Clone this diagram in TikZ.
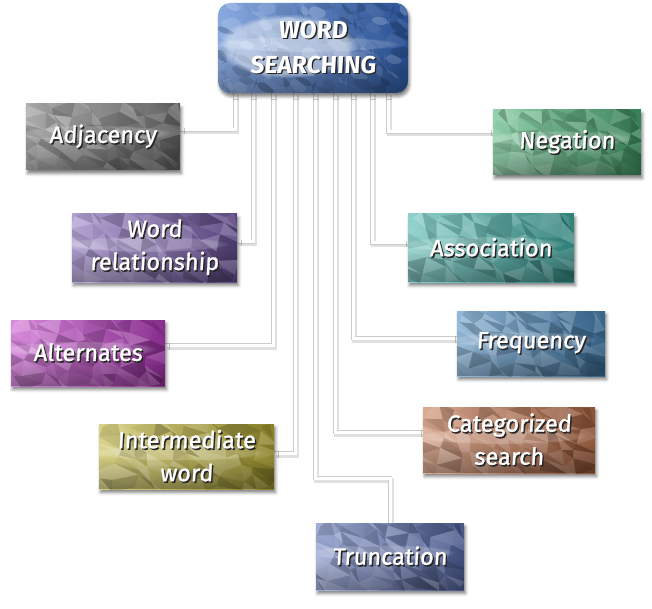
\documentclass[tikz,border=0pt]{standalone}
\usepackage{fontspec}
\setmainfont{Fira Sans}
\newfontfamily\cardfont{Fira Sans}[FakeBold=1.2,FakeSlant=0.06]
\newfontfamily\titlefont{Fira Sans Bold}[FakeSlant=0.06]
\usetikzlibrary{shadows.blur,fadings,backgrounds,calc}

\definecolor{cTop}{HTML}{3A70CC}
\definecolor{cAdj}{HTML}{7C7C7C}
\definecolor{cRel}{HTML}{7E62B4}
\definecolor{cAlt}{HTML}{BC3CC4}
\definecolor{cInt}{HTML}{C0B438}
\definecolor{cTru}{HTML}{6478BC}
\definecolor{cCat}{HTML}{C07048}
\definecolor{cFrq}{HTML}{4C8ABE}
\definecolor{cAss}{HTML}{44B2AA}
\definecolor{cNeg}{HTML}{4CB276}

% white lettering with a dark drop shadow
\newcommand\shadowed[1]{\leavevmode\rlap{\kern1.4pt\raisebox{-1.6pt}{\textcolor{black!85}{#1}}}#1}

\def\glowamount{0}

% low-poly facets: jittered grid of triangles, lightened or darkened
\newcommand\facets[3]{%
  \coordinate (nw) at (path picture bounding box.north west);
  \pgfmathsetmacro\cw{#1/10}\pgfmathsetmacro\ch{#2/6}
  \foreach \i in {0,...,9}{\foreach \j in {0,...,5}{
    \pgfmathtruncatemacro\ii{\i+1}\pgfmathtruncatemacro\jj{\j+1}
    \pgfmathsetmacro\ax{\i*\cw+5*sin(127*\i+311*\j+#3)}
    \pgfmathsetmacro\ay{\j*\ch+4*sin(211*\i+97*\j+#3)}
    \pgfmathsetmacro\bx{\ii*\cw+5*sin(127*\ii+311*\j+#3)}
    \pgfmathsetmacro\by{\j*\ch+4*sin(211*\ii+97*\j+#3)}
    \pgfmathsetmacro\cx{\i*\cw+5*sin(127*\i+311*\jj+#3)}
    \pgfmathsetmacro\cy{\jj*\ch+4*sin(211*\i+97*\jj+#3)}
    \pgfmathsetmacro\dx{\ii*\cw+5*sin(127*\ii+311*\jj+#3)}
    \pgfmathsetmacro\dy{\jj*\ch+4*sin(211*\ii+97*\jj+#3)}
    \pgfmathsetmacro\sa{2*mod(abs(1000*sin(127.1*\i+311.7*\j+37.3*#3)),1)-1}
    \pgfmathsetmacro\sb{2*mod(abs(1000*sin(269.5*\i+183.3*\j+51.7*#3+17)),1)-1}
    \pgfmathsetmacro\wa{max(0,\sa)*0.22}\pgfmathsetmacro\ka{max(0,-\sa)*0.22}
    \pgfmathsetmacro\wb{max(0,\sb)*0.22}\pgfmathsetmacro\kb{max(0,-\sb)*0.22}
    \fill[white,fill opacity=\wa] ($(nw)+(\ax,\ay)$) -- ($(nw)+(\bx,\by)$) -- ($(nw)+(\dx,\dy)$) -- cycle;
    \fill[black,fill opacity=\ka] ($(nw)+(\ax,\ay)$) -- ($(nw)+(\bx,\by)$) -- ($(nw)+(\dx,\dy)$) -- cycle;
    \fill[white,fill opacity=\wb] ($(nw)+(\ax,\ay)$) -- ($(nw)+(\dx,\dy)$) -- ($(nw)+(\cx,\cy)$) -- cycle;
    \fill[black,fill opacity=\kb] ($(nw)+(\ax,\ay)$) -- ($(nw)+(\dx,\dy)$) -- ($(nw)+(\cx,\cy)$) -- cycle;
  }}
  \fill[black,fill opacity=0.3,path fading=north]
    (path picture bounding box.south west) rectangle (path picture bounding box.east);
  \fill[white,fill opacity=0.18,path fading=circle with fuzzy edge 15 percent]
    ([xshift=-8pt,yshift=4pt]path picture bounding box.center) ellipse [x radius=#1*0.5pt,y radius=8pt];
  \fill[white,fill opacity=\glowamount,path fading=circle with fuzzy edge 15 percent]
    ([xshift=-25pt,yshift=2pt]path picture bounding box.center) ellipse [x radius=70pt,y radius=32pt];
}

\tikzset{
  card/.style n args={4}{
    minimum width=#1pt, minimum height=#2pt, inner sep=0pt,
    left color=#3!60!white, right color=#3!72!black,
    blur shadow={shadow xshift=1.5pt,shadow yshift=-3.5pt,shadow blur radius=3pt,shadow opacity=50},
    path picture={\facets{#1}{#2}{#4}},
    text=white, align=center, font=\cardfont\fontsize{23.5}{33}\selectfont
  },
  glow/.code={\def\glowamount{#1}},
  titlecard/.style={font=\titlefont\fontsize{24.5}{35}\selectfont, rounded corners=12pt, glow=0.45},
  link/.style={draw=black!20, line width=0.6pt, double=white, double distance=3pt,
    preaction={draw=black!12, line width=5pt, transform canvas={shift={(1.5pt,-2pt)}}}}
}

\begin{document}
\begin{tikzpicture}[x=1pt,y=-1pt]
\useasboundingbox (0,0) rectangle (652,609);

\node[card={190}{90}{cTop}{10}, titlecard] (top) at (313,48) {\shadowed{WORD}\\\shadowed{SEARCHING}};

\node[card={154}{66}{cAdj}{20}] (adj) at (103,137) {\shadowed{Adjacency}};
\node[card={165}{68}{cRel}{30}] (rel) at (154.5,248) {\shadowed{Word}\\\shadowed{relationship}};
\node[card={154}{66}{cAlt}{40}] (alt) at (88,353) {\shadowed{Alternates}};
\node[card={175}{65}{cInt}{50}] (int) at (186.5,456.5) {\shadowed{Intermediate}\\\shadowed{word}};
\node[card={148}{67}{cTru}{60}] (tru) at (390,556.5) {\shadowed{Truncation}};
\node[card={172}{66}{cCat}{70}] (cat) at (509,440) {\shadowed{Categorized}\\\shadowed{search}};
\node[card={148}{65}{cFrq}{80}] (frq) at (531,343.5) {\shadowed{Frequency}};
\node[card={166}{68}{cAss}{90}] (ass) at (491,248) {\shadowed{Association}};
\node[card={148}{65}{cNeg}{100}] (neg) at (567,142.5) {\shadowed{Negation}};

\begin{scope}[on background layer]
  \draw[link] ([xshift=-78pt]top.south) |- ([yshift=7pt]adj.east);
  \draw[link] ([xshift=-60pt]top.south) |- ([yshift=6pt]rel.east);
  \draw[link] ([xshift=-40pt]top.south) |- ([yshift=8pt]alt.east);
  \draw[link] ([xshift=-18pt]top.south) |- ([yshift=3.5pt]int.east);
  \draw[link] ([xshift=2pt]top.south) -- ++(0,385) -| (tru.north);
  \draw[link] ([xshift=22pt]top.south) |- ([yshift=8pt]cat.west);
  \draw[link] ([xshift=40pt]top.south) |- ([yshift=5.5pt]frq.west);
  \draw[link] ([xshift=59pt]top.south) |- ([yshift=5pt]ass.west);
  \draw[link] ([xshift=75pt]top.south) |- ([yshift=10.5pt]neg.west);
\end{scope}
\end{tikzpicture}
\end{document}
